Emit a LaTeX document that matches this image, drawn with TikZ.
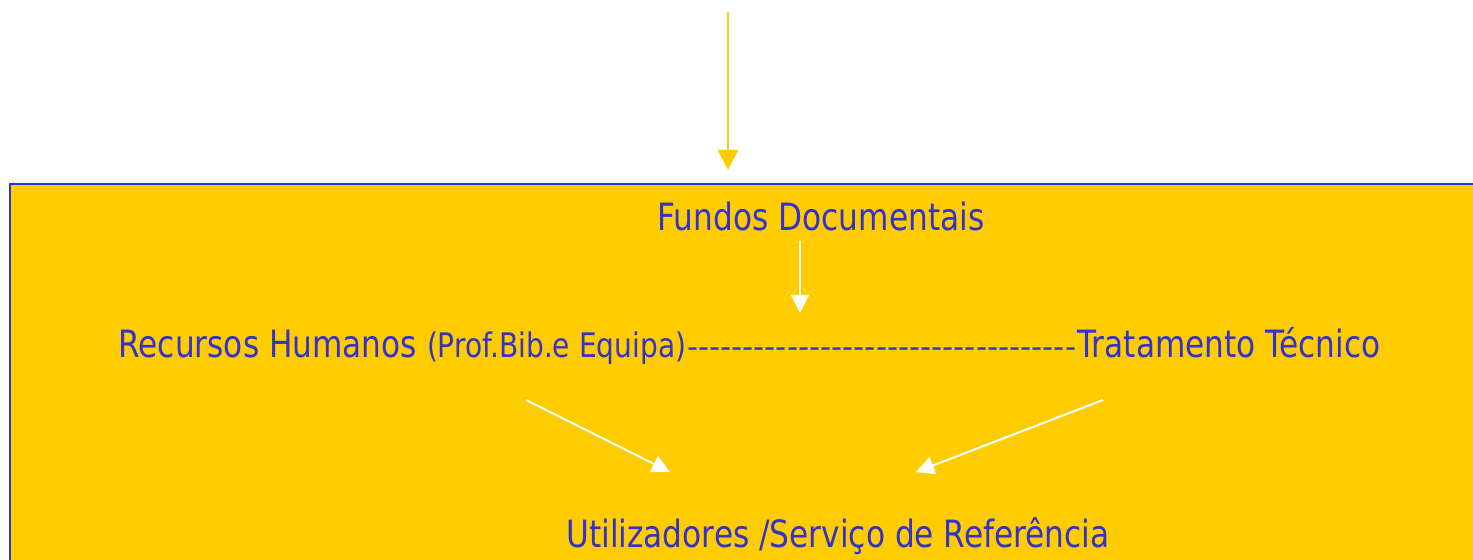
\documentclass[tikz,border=0pt]{standalone}
\usepackage{fontspec}
\setmainfont{DejaVu Sans}[FakeStretch=0.83]
\newfontfamily\tracofont{DejaVu Sans}
\usetikzlibrary{arrows.meta}

\definecolor{amarelo}{HTML}{FFCC00}
\definecolor{azul}{HTML}{3333CC}

\tikzset{
  texto/.style={text=azul, inner sep=0pt, font=\fontsize{18.8}{22}\selectfont},
  menor/.style={font=\fontsize{15.4}{18}\selectfont},
  seta/.style={draw=white, line width=1pt, -{Triangle[width=9pt,length=9pt]}},
}

\begin{document}
\begin{tikzpicture}[x=0.5pt,y=-0.5pt]

\useasboundingbox (0,0) rectangle (1473,560);

% caixa amarela
\filldraw[fill=amarelo, draw=azul, line width=1.4pt] (10,184) rectangle (1500,600);

\node[texto, anchor=base] (fundos) at (821,231) {Fundos Documentais};
\node[texto, anchor=base west] (recursos) at (118,358)
    {Recursos Humanos {\fontsize{16.9}{18}\selectfont (Prof.Bib.e Equipa)}};
\node[texto, menor, anchor=base west] (tracos) at (recursos.base east)
    {\tracofont ‐‐‐‐‐‐‐‐‐‐‐‐‐‐‐‐‐‐‐‐‐‐‐‐‐‐‐‐‐‐‐‐‐‐‐};
\node[texto, anchor=base east] (tratamento) at (1381,358) {Tratamento Técnico};
\node[texto, anchor=base] (utilizadores) at (838,548) {Utilizadores /Serviço de Referência};

\coordinate (entrada) at (728,12);
\coordinate (topo) at (728,170);
\coordinate (f1) at (800,241);
\coordinate (f2) at (800,313);
\coordinate (r1) at (526,400);
\coordinate (r2) at (670,472);
\coordinate (t1) at (1103,400);
\coordinate (t2) at (916,472);

\draw[line width=1pt, amarelo, -{Triangle[width=10pt,length=10pt]}] (entrada) -- (topo);

\draw[seta] (f1) -- (f2);
\draw[seta] (r1) -- (r2);
\draw[seta] (t1) -- (t2);

\end{tikzpicture}
\end{document}
